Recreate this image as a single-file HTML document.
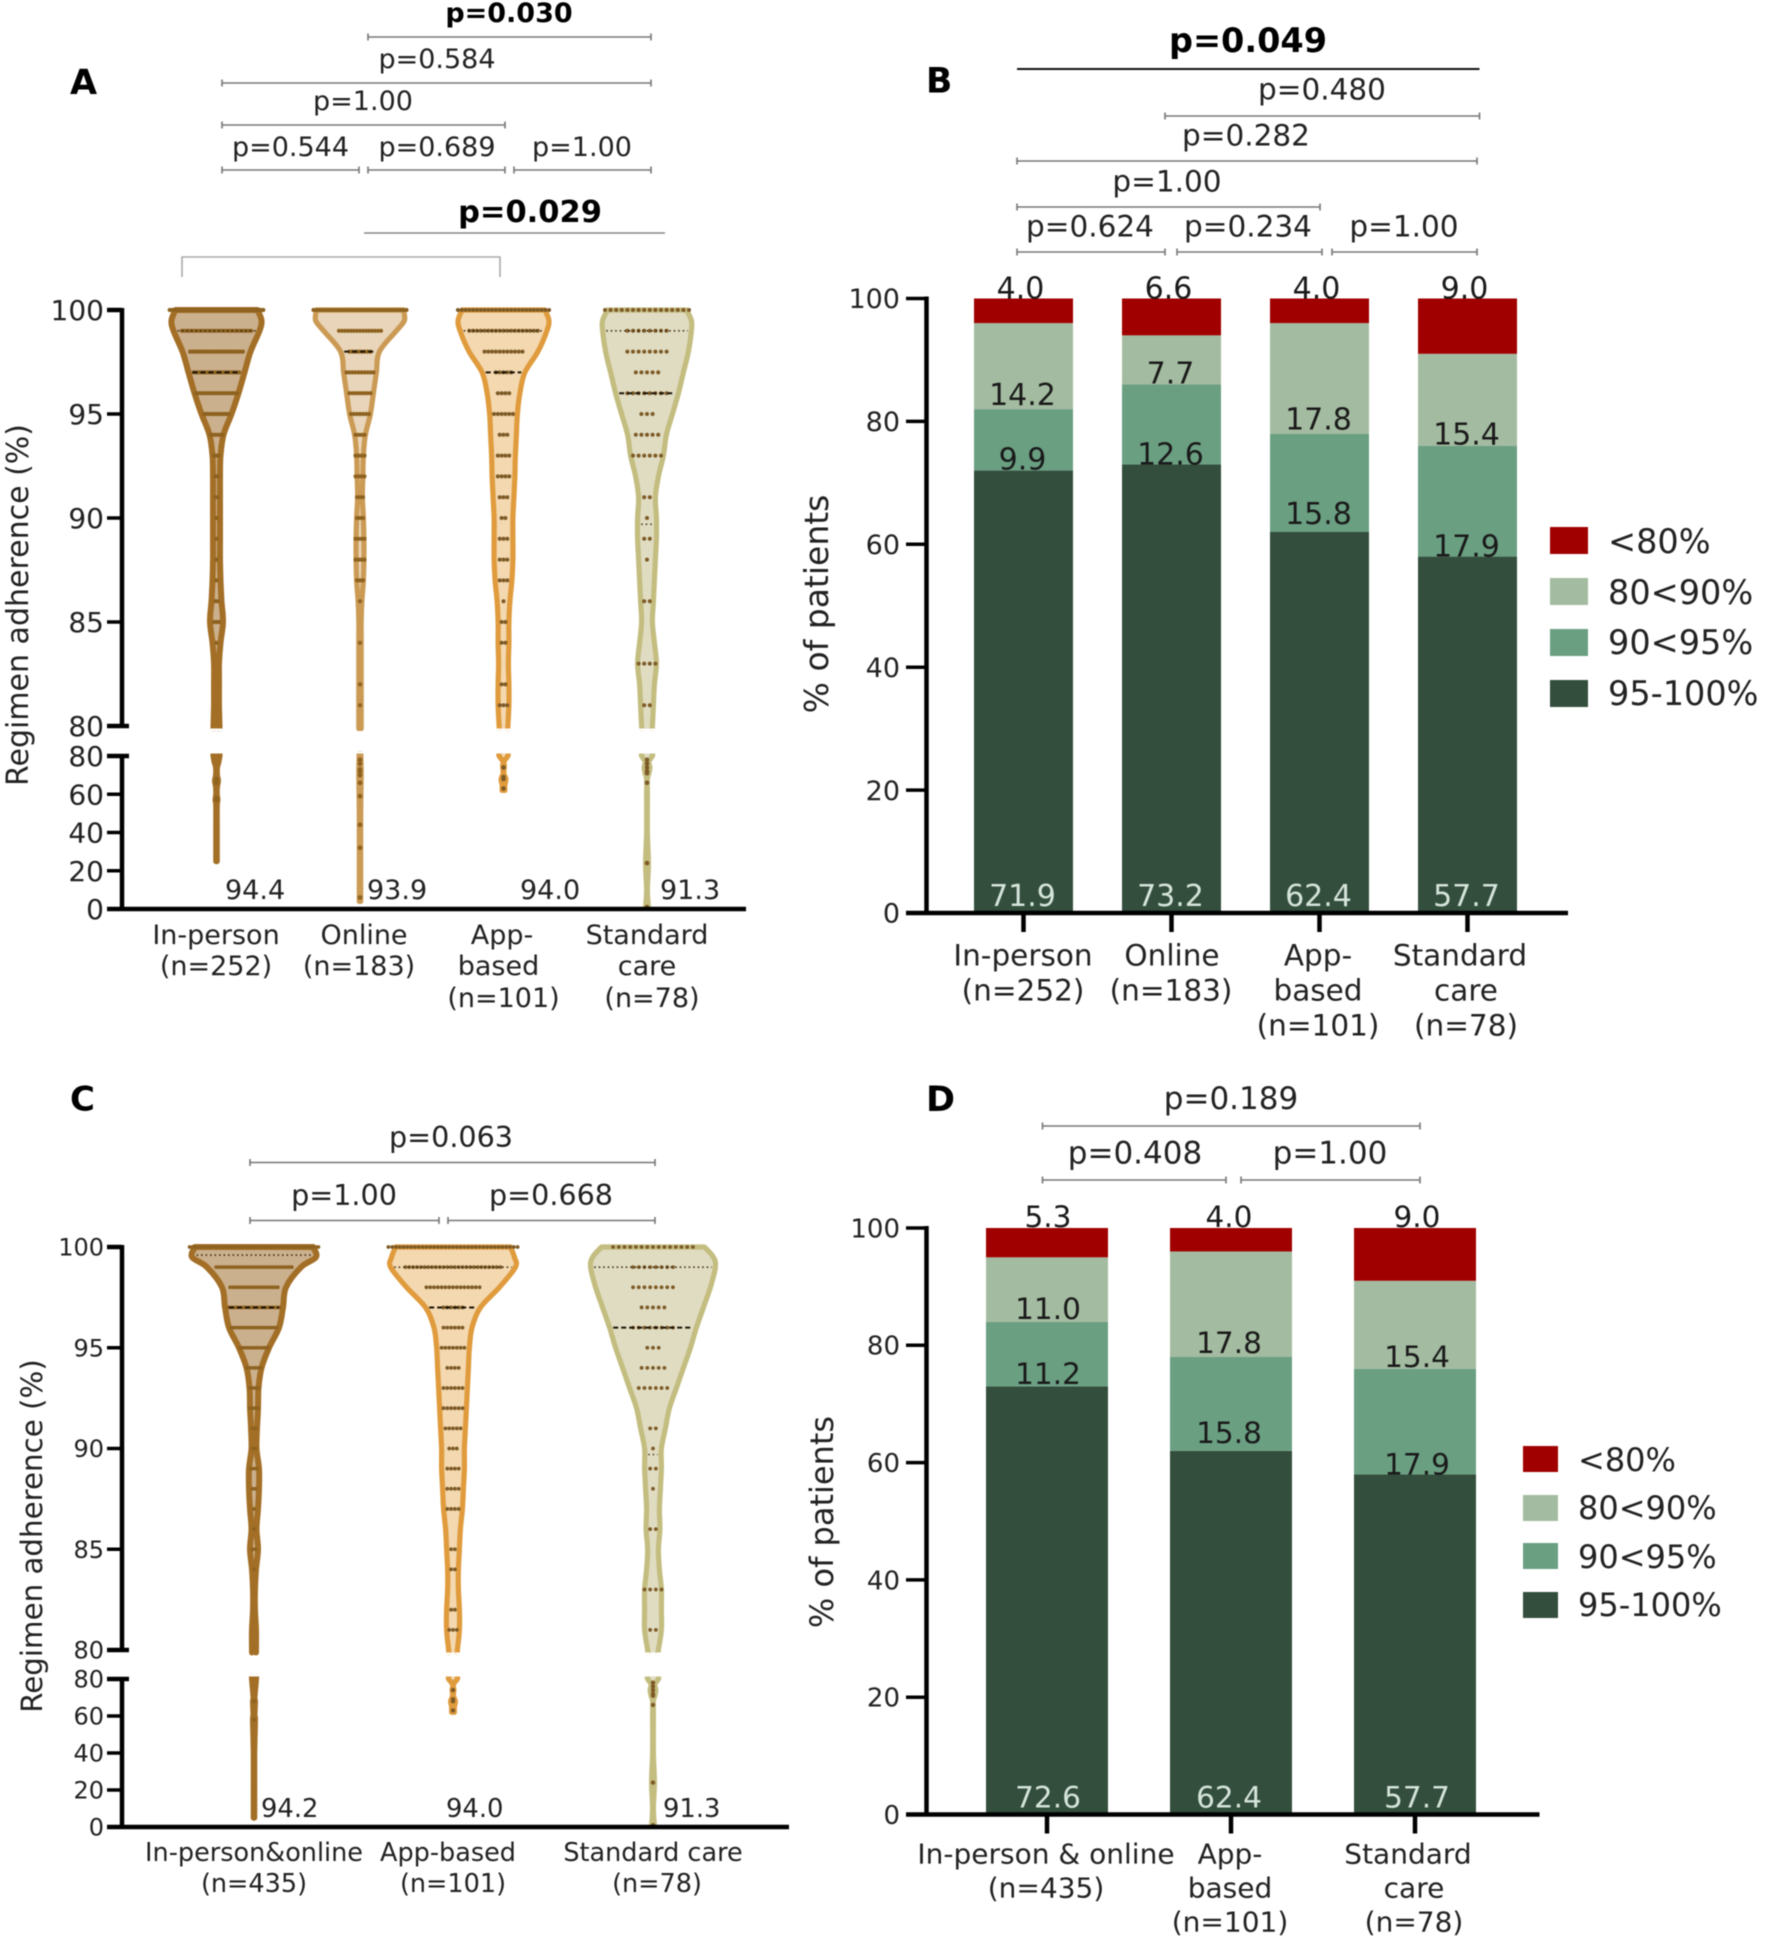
<!DOCTYPE html>
<html lang="en">
<head>
<meta charset="utf-8">
<title>Regimen adherence by group</title>
<style>
html,body{margin:0;padding:0;background:#fff}
svg{display:block;filter:blur(.45px)}
text{font-family:"DejaVu Sans","Liberation Sans",sans-serif;fill:#222}
.m{text-anchor:middle}
.b{font-weight:bold;fill:#000}
.br{fill:none;stroke:#777;stroke-width:1.6}
</style>
</head>
<body>
<svg id="fig" xmlns="http://www.w3.org/2000/svg" width="1770" height="1943" viewBox="0 0 1770 1943">
<rect width="1770" height="1943" fill="#fff"/>

<!-- PANEL A annotations -->
<g>
<text x="70" y="94" font-size="35" class="b">A</text>
<text x="509" y="22" font-size="27" class="m b">p=0.030</text>
<path class="br" d="M368 33.5V40.5M368 37H651M651 33.5V40.5"/>
<text x="437" y="68" font-size="27" class="m">p=0.584</text>
<path class="br" d="M222 79.5V86.5M222 83H651M651 79.5V86.5"/>
<text x="363" y="110" font-size="27" class="m">p=1.00</text>
<path class="br" d="M222 121.5V128.5M222 125H505M505 121.5V128.5"/>
<text x="290.500" y="156" font-size="27" class="m">p=0.544</text>
<path class="br" d="M222 166.500V173.500M222 170H359M359 166.500V173.500"/>
<text x="437" y="156" font-size="27" class="m">p=0.689</text>
<path class="br" d="M368 166.500V173.500M368 170H505M505 166.500V173.500"/>
<text x="582" y="156" font-size="27" class="m">p=1.00</text>
<path class="br" d="M514 166.500V173.500M514 170H651M651 166.500V173.500"/>
<text x="530" y="222" font-size="30.500" class="m b">p=0.029</text>
<path d="M364 233H665" fill="none" stroke="#888" stroke-width="1.6"/>
<path d="M182 277V257H500V277" fill="none" stroke="#aaa" stroke-width="1.6"/>
<text transform="translate(28,605) rotate(-90)" font-size="30" class="m">Regimen adherence (%)</text>
<text x="225" y="899" font-size="27">94.4</text>
<text x="367" y="899" font-size="27">93.9</text>
<text x="520" y="899" font-size="27">94.0</text>
<text x="660" y="899" font-size="27">91.3</text>
<g font-size="27" class="m">
<text x="216" y="944" class="m">In-person</text>
<text x="216" y="975" class="m">(n=252)</text>
<text x="364" y="944" class="m">Online</text>
<text x="359" y="975" class="m">(n=183)</text>
<text x="502" y="944" class="m">App-</text>
<text x="498.500" y="975" class="m">based</text>
<text x="503.500" y="1007" class="m">(n=101)</text>
<text x="647" y="944" class="m">Standard</text>
<text x="647" y="975" class="m">care</text>
<text x="652" y="1007" class="m">(n=78)</text>
</g>
</g>

<!-- PANEL B annotations -->
<g>
<text x="926" y="92.500" font-size="34.500" class="b">B</text>
<text x="1248" y="52" font-size="33.500" class="m b">p=0.049</text>
<path d="M1017 69H1479.500" fill="none" stroke="#111" stroke-width="2"/>
<text x="1322" y="99.500" font-size="29.500" class="m">p=0.480</text>
<path class="br" d="M1165 112.500V119.500M1165 116H1479.500M1479.500 112.500V119.500"/>
<text x="1246" y="145.500" font-size="29.500" class="m">p=0.282</text>
<path class="br" d="M1017 157.500V164.500M1017 161H1477M1477 157.500V164.500"/>
<text x="1167" y="191.500" font-size="29.500" class="m">p=1.00</text>
<path class="br" d="M1017 203.500V210.500M1017 207H1320M1320 203.500V210.500"/>
<text x="1090" y="236.500" font-size="29.500" class="m">p=0.624</text>
<path class="br" d="M1017 248.500V255.500M1017 252H1165M1165 248.500V255.500"/>
<text x="1248" y="236.500" font-size="29.500" class="m">p=0.234</text>
<path class="br" d="M1177 248.500V255.500M1177 252H1322M1322 248.500V255.500"/>
<text x="1404" y="236.500" font-size="29.500" class="m">p=1.00</text>
<path class="br" d="M1332 248.500V255.500M1332 252H1477M1477 248.500V255.500"/>
<text transform="translate(828,604) rotate(-90)" font-size="33" class="m">% of patients</text>
<text x="1023" y="965.500" font-size="29.500" class="m">In-person</text>
<text x="1023" y="1000.500" font-size="29.500" class="m">(n=252)</text>
<text x="1172" y="965.500" font-size="29.500" class="m">Online</text>
<text x="1171" y="1000.500" font-size="29.500" class="m">(n=183)</text>
<text x="1318" y="965.500" font-size="29.500" class="m">App-</text>
<text x="1318" y="1000.500" font-size="29.500" class="m">based</text>
<text x="1318" y="1035.500" font-size="29.500" class="m">(n=101)</text>
<text x="1460" y="965.500" font-size="29.500" class="m">Standard</text>
<text x="1466" y="1000.500" font-size="29.500" class="m">care</text>
<text x="1466" y="1035.500" font-size="29.500" class="m">(n=78)</text>
<g>
<rect x="1550" y="527" width="38" height="27" fill="#a00000"/>
<text x="1608" y="553" font-size="33.500">&lt;80%</text>
<rect x="1550" y="578" width="38" height="27" fill="#a3bba0"/>
<text x="1608" y="604" font-size="33.500">80&lt;90%</text>
<rect x="1550" y="629" width="38" height="27" fill="#6a9f82"/>
<text x="1608" y="654" font-size="33.500">90&lt;95%</text>
<rect x="1550" y="680" width="38" height="27" fill="#334e3d"/>
<text x="1608" y="705" font-size="33.500">95-100%</text>
</g>
</g>

<!-- PANEL C annotations -->
<g>
<text x="70" y="1110.500" font-size="34" class="b">C</text>
<text x="451" y="1147" font-size="28.600" class="m">p=0.063</text>
<path class="br" d="M250 1159V1166M250 1162.500H655M655 1159V1166"/>
<text x="344" y="1205" font-size="28.600" class="m">p=1.00</text>
<path class="br" d="M250 1217V1224M250 1220.500H439M439 1217V1224"/>
<text x="551" y="1205" font-size="28.600" class="m">p=0.668</text>
<path class="br" d="M448 1217V1224M448 1220.500H655M655 1217V1224"/>
<text transform="translate(42,1536) rotate(-90)" font-size="29.300" class="m">Regimen adherence (%)</text>
<text x="261" y="1817" font-size="25.800">94.2</text>
<text x="446" y="1817" font-size="25.800">94.0</text>
<text x="663" y="1817" font-size="25.800">91.3</text>
<text x="254" y="1861" font-size="25.500" class="m">In-person&amp;online</text>
<text x="254" y="1892" font-size="25.500" class="m">(n=435)</text>
<text x="448" y="1861" font-size="25.500" class="m">App-based</text>
<text x="453" y="1892" font-size="25.500" class="m">(n=101)</text>
<text x="653" y="1861" font-size="25.500" class="m">Standard care</text>
<text x="657" y="1892" font-size="25.500" class="m">(n=78)</text>
</g>

<!-- PANEL D annotations -->
<g>
<text x="926" y="1111" font-size="35" class="b">D</text>
<text x="1231" y="1109" font-size="31" class="m">p=0.189</text>
<path class="br" d="M1042.500 1122.500V1129.500M1042.500 1126H1420M1420 1122.500V1129.500"/>
<text x="1135" y="1163.500" font-size="31" class="m">p=0.408</text>
<path class="br" d="M1042.500 1176.500V1183.500M1042.500 1180H1226M1226 1176.500V1183.500"/>
<text x="1330" y="1163.500" font-size="31" class="m">p=1.00</text>
<path class="br" d="M1241 1176.500V1183.500M1241 1180H1420M1420 1176.500V1183.500"/>
<text transform="translate(833,1522) rotate(-90)" font-size="32" class="m">% of patients</text>
<text x="1046" y="1863.500" font-size="28" class="m">In-person &amp; online</text>
<text x="1046" y="1897.500" font-size="28" class="m">(n=435)</text>
<text x="1230" y="1863.500" font-size="28" class="m">App-</text>
<text x="1230" y="1897.500" font-size="28" class="m">based</text>
<text x="1230" y="1931.500" font-size="28" class="m">(n=101)</text>
<text x="1408" y="1863.500" font-size="28" class="m">Standard</text>
<text x="1414" y="1897.500" font-size="28" class="m">care</text>
<text x="1414" y="1931.500" font-size="28" class="m">(n=78)</text>
<g>
<rect x="1523" y="1446" width="35" height="26" fill="#a00000"/>
<text x="1578" y="1471" font-size="32">&lt;80%</text>
<rect x="1523" y="1495" width="35" height="26" fill="#a3bba0"/>
<text x="1578" y="1519" font-size="32">80&lt;90%</text>
<rect x="1523" y="1543" width="35" height="26" fill="#6a9f82"/>
<text x="1578" y="1568" font-size="32">90&lt;95%</text>
<rect x="1523" y="1592" width="35" height="26" fill="#334e3d"/>
<text x="1578" y="1616" font-size="32">95-100%</text>
</g>
</g>
</svg>

<script>
// ---------- shared category levels ----------
const violinLevels = [100,99.5,99,98,97,96,95,94,93,92,91,90,89,88,87,86,85,84,83,82,81,80];
const dotLevels = [100,99,98,97,96,95,94,93,92,91,90,89,88,87,86,85,84,83,82,81,80];
const upperTicks = [100,95,90,85,80];
const lowerTicks = [80,60,40,20,0];
const barTicks = [0,20,40,60,80,100];

// ---------- panel A: violin densities (upper axis segment) ----------
const aDensityInPerson = [44,48,46,37,31,25,18,10,7,6.5,6.5,6.5,6.5,6.5,7,8,9.5,7,5.5,5.5,5.5,6];
const aDensityOnline   = [46,47,39,22,19,16,13,8,6,5.5,5,6,6.5,6.5,6,4.5,3.8,3.8,3.8,3.8,3.8,3.8];
const aDensityApp      = [44,48,46,37,24,19,16.5,15.5,14.5,14,13,12,12,12,11,9,8,8,7.5,8,8,7];
const aDensityStandard = [42,47,47,44,39,34,28,22,19,14,11,12,12,11,10,9,8,10,12,10,9,8];
// patients per adherence level
const aDotsInPerson = [40,30,23,20,18,11,6,3,2,2,1,1,1,1,2,3,1,0,0,0,0];
const aDotsOnline   = [32,15,8,10,8,7,4,4,4,3,3,4,4,3,1,0,1,0,1,1,0];
const aDotsApp      = [25,19,11,5,4,6,3,4,4,3,2,3,3,3,1,2,2,0,2,3,0];
const aDotsStandard = [16,8,8,5,8,3,5,6,0,2,1,2,1,0,2,0,0,4,0,2,0];
// lower axis segment
const aLowLevelsInPerson = [80,77,74,70,67,64,60,57,54,40,25];
const aLowDensityInPerson = [6,5,3.5,3.5,4.5,3.5,3.3,4,3.3,3.3,3.3];
const aLowDotsInPerson = [68,66,58,57];
const aLowLevelsOnline = [80,70,60,44,30,15,4];
const aLowDensityOnline = [3.5,3.8,3.5,3.3,3.3,3.3,3.3];
const aLowDotsOnline = [78,76,73,72,70,66,59,44,32,6];
const aLowLevelsApp = [80,77,75,71,68,65,62];
const aLowDensityApp = [7,3,3.5,3,5,4,4];
const aLowDotsApp = [74,69,68,63];
const aLowLevelsStandard = [80,77,74,71,68,60,40,24,10,1];
const aLowDensityStandard = [8,4.5,5.5,4.5,3,3,3,4,3,4];
const aLowDotsStandard = [78,76,74,72,71,66,24,1];
const aMedians = [97,98,97,96];
const aUpperQuartiles = [99,null,99,99];
const aLowerQuartiles = [null,null,null,89.7];

// ---------- panel C ----------
const cDensityCombined = [62,65,50,35,32,28,18,10.5,7.5,7,6,5.5,8,8,7,5.5,7,5,4,4,5,5];
const cDensityApp      = [60,64,65,49,30,21.6,19,18,17,16,15,14,14,13,12,10,9,8,8,9,9,7];
const cDensityStandard = [54,63,65,60,53,46,40,33,26,19,15,11,11,10,9,9.5,8,9,11,11,11,8];
const cDotsCombined = [47,28,18,19,17,11,6,4,4,2,2,3,2,1,1,2,1,0,0,0,0];
const cDotsApp      = [35,26,15,6,6,7,4,6,6,5,3,4,4,4,0,2,2,0,2,3,0];
const cDotsStandard = [15,8,8,5,8,3,5,6,0,2,1,2,1,0,2,0,0,4,0,2,0];
const cLowLevelsCombined = [80,70,68,60,58,40,20,5];
const cLowDensityCombined = [5,3.5,4,3.5,4,3.3,3.3,3.3];
const cLowDotsCombined = [68,58];
const cLowLevelsApp = [80,77,74,71,68,65,62];
const cLowDensityApp = [7,3,3.5,3,5,4,4];
const cLowDotsApp = [74,69,68,63];
const cLowLevelsStandard = [80,77,74,71,68,60,40,24,10,1];
const cLowDensityStandard = [8,4.5,5.5,4.5,3,3,3,4,3,4];
const cLowDotsStandard = [78,76,74,72,71,66,24,1];
const cMedians = [97,97,96];
const cUpperQuartiles = [99.6,99,99];
const cLowerQuartiles = [null,null,89.7];

// ---------- panel B stacked bars: band heights as drawn, and printed values ----------
const bCategories = ['in-person','online','app-based','standard-care'];
const bBand95to100 = [72,73,62,58];
const bBand90to95  = [10,13,16,18];
const bBand80to90  = [14,8,18,15];
const bBandUnder80 = [4,6,4,9];
const bPrinted95to100 = ['71.9','73.2','62.4','57.7'];
const bPrinted90to95  = ['9.9','12.6','15.8','17.9'];
const bPrinted80to90  = ['14.2','7.7','17.8','15.4'];
const bPrintedUnder80 = ['4.0','6.6','4.0','9.0'];

// ---------- panel D stacked bars ----------
const dCategories = ['in-person-online','app-based','standard-care'];
const dBand95to100 = [73,62,58];
const dBand90to95  = [11,16,18];
const dBand80to90  = [11,18,15];
const dBandUnder80 = [5,4,9];
const dPrinted95to100 = ['72.6','62.4','57.7'];
const dPrinted90to95  = ['11.2','15.8','17.9'];
const dPrinted80to90  = ['11.0','17.8','15.4'];
const dPrintedUnder80 = ['5.3','4.0','9.0'];

const SVG_NS = 'http://www.w3.org/2000/svg';
const fig = document.getElementById('fig');

function make(tag, attrs, parent){
  const n = document.createElementNS(SVG_NS, tag);
  for (const k in attrs) n.setAttribute(k, attrs[k]);
  (parent || fig).appendChild(n);
  return n;
}
function tickLabel(parent, x, y, size, str){
  const t = make('text', {x:x, y:y + size*0.36, 'font-size':size, 'text-anchor':'end'}, parent);
  t.textContent = str;
  
  
}
function tickMark(parent, x1, x2, y, w){
  const l = make('line', {x1:x1, x2:x2, y1:y, y2:y, stroke:'#000', 'stroke-width':w}, parent);
  
  
}
function axisLine(parent, x1, y1, x2, y2, w, name){
  const l = make('line', {x1:x1, y1:y1, x2:x2, y2:y2, stroke:'#000', 'stroke-width':w}, parent);
  
  
}

// Catmull-Rom through points
function smooth(pts){
  let d = '';
  for (let i = 0; i < pts.length - 1; i++){
    const p0 = pts[Math.max(i-1,0)], p1 = pts[i], p2 = pts[i+1], p3 = pts[Math.min(i+2,pts.length-1)];
    const c1x = p1[0] + (p2[0]-p0[0])/6, c1y = p1[1] + (p2[1]-p0[1])/6;
    const c2x = p2[0] - (p3[0]-p1[0])/6, c2y = p2[1] - (p3[1]-p1[1])/6;
    d += 'C' + c1x.toFixed(1) + ' ' + c1y.toFixed(1) + ' ' + c2x.toFixed(1) + ' ' + c2y.toFixed(1) + ' ' + p2[0].toFixed(1) + ' ' + p2[1].toFixed(1);
  }
  return d;
}
function violinPath(levels, density, cx, yScale, sw, openAtTop){
  const hw = density.map(function(d){ return Math.max(d - sw/2, 0.3); });
  const ys = levels.map(yScale);
  const left = ys.map(function(y,i){ return [cx - hw[i], y]; });
  const right = ys.map(function(y,i){ return [cx + hw[i], y]; });
  if (openAtTop){
    left.unshift([left[0][0], ys[0]-2.5]);
    right.unshift([right[0][0], ys[0]-2.5]);
    const rr = right.slice().reverse();
    return 'M' + left[0][0].toFixed(1) + ' ' + left[0][1].toFixed(1) + smooth(left) + 'L' + rr[0][0].toFixed(1) + ' ' + rr[0][1].toFixed(1) + smooth(rr);
  }
  const n = ys.length - 1;
  left.push([left[n][0], ys[n]+2.5]);
  right.push([right[n][0], ys[n]+2.5]);
  const lr = left.slice().reverse();
  return 'M' + lr[0][0].toFixed(1) + ' ' + lr[0][1].toFixed(1) + smooth(lr) + 'L' + right[0][0].toFixed(1) + ' ' + right[0][1].toFixed(1) + smooth(right);
}
function densityAt(levels, density, v){
  for (let i = 0; i < levels.length - 1; i++){
    if (v <= levels[i] && v >= levels[i+1]){
      const f = (levels[i]-v)/(levels[i]-levels[i+1]);
      return density[i] + f*(density[i+1]-density[i]);
    }
  }
  return density[density.length-1];
}
function statLine(parent, cx, y, half, dash, col, w, name){
  const l = make('line', {x1:cx-half, x2:cx+half, y1:y, y2:y, stroke:col, 'stroke-width':w, 'stroke-dasharray':dash}, parent);
  
  
}

function drawViolin(g, v, yU, yL){
  const sw = v.sw;
  const up = make('path', {d:violinPath(violinLevels, v.density, v.cx, yU, sw, false), fill:v.fill, stroke:v.stroke, 'stroke-width':sw, 'stroke-linejoin':'round'}, g);
  
  
  const low = make('path', {d:violinPath(v.lowLevels, v.lowDensity, v.cx, yL, sw, true), fill:v.fill, stroke:v.stroke, 'stroke-width':sw, 'stroke-linejoin':'round', 'stroke-linecap':'butt'}, g);
  
  
  // dots per level
  dotLevels.forEach(function(level, i){
    const n = v.dots[i];
    for (let j = 0; j < n; j++){
      const c = make('circle', {cx:v.cx + (j-(n-1)/2)*v.spacing, cy:yU(level), r:v.r, fill:v.dotColor}, g);
      
      
    }
  });
  v.lowDots.forEach(function(val){
    const c = make('circle', {cx:v.cx, cy:yL(val), r:v.r + 0.3, fill:v.dotColor}, g);
    
    
  });
  // median and quartile lines
  statLine(g, v.cx, yU(v.median), Math.max(densityAt(violinLevels, v.density, v.median) - sw - 1, 3), '5 3', '#1c1408', 2, 'median-line-' + v.name);
  if (v.q3 !== null) statLine(g, v.cx, yU(v.q3), Math.max(densityAt(violinLevels, v.density, v.q3) - sw - 1, 3), '1.5 3', '#3a2a10', 1.6, 'upper-quartile-line-' + v.name);
  if (v.q1 !== null) statLine(g, v.cx, yU(v.q1), Math.max(densityAt(violinLevels, v.density, v.q1) - sw - 1, 3), '1.5 3', '#3a2a10', 1.4, 'lower-quartile-line-' + v.name);
}

function drawViolinPanel(cfg, violins){
  const g = make('g', {});
  
  
  const yU = function(v){ return cfg.uTop + (100 - v)*(cfg.uBot - cfg.uTop)/20; };
  const yL = function(v){ return cfg.lBot - v*(cfg.lBot - cfg.lTop)/80; };
  axisLine(g, cfg.axisX, yU(100)-2, cfg.axisX, yU(80)+2, 4.5, 'y-axis-upper');
  axisLine(g, cfg.axisX, yL(80)-2, cfg.axisX, yL(0), 4.5, 'y-axis-lower');
  upperTicks.forEach(function(v){
    tickMark(g, cfg.tickX, v === 80 ? cfg.axisX + 7 : cfg.axisX, yU(v), v === 80 || v === 100 ? 4.5 : 3.5);
    tickLabel(g, cfg.labelX, yU(v), cfg.tickSize, String(v));
  });
  lowerTicks.forEach(function(v){
    tickMark(g, cfg.tickX, v === 80 ? cfg.axisX + 7 : cfg.axisX, yL(v), v === 80 ? 4.5 : 3.5);
    tickLabel(g, cfg.labelX, yL(v), cfg.tickSize, String(v));
  });
  violins.forEach(function(v){ drawViolin(g, v, yU, yL); });
  axisLine(g, cfg.tickX, yL(0), cfg.axisEnd, yL(0), 4.5, 'x-axis');
}

function drawStackedPanel(cfg){
  const g = make('g', {});
  
  
  const y = function(v){ return cfg.y0 - v*(cfg.y0 - cfg.y100)/100; };
  const x = function(i){ return cfg.x0 + i*cfg.pitch; };
  const colors = ['#334e3d','#6a9f82','#a3bba0','#a00000'];
  const bandNames = ['95-100','90-95','80-90','under-80'];
  cfg.categories.forEach(function(cat, i){
    let base = 0;
    cfg.bands.forEach(function(band, b){
      const top = base + band[i];
      const r = make('rect', {x:x(i)-cfg.barW/2, y:y(top), width:cfg.barW, height:y(base)-y(top), fill:colors[b]}, g);
      
      
      base = top;
    });
  });
  cfg.categories.forEach(function(cat, i){
    let base = 0;
    cfg.bands.forEach(function(band, b){
      let ty;
      let tx = x(i) + cfg.labelShift[i];
      if (b === 0) ty = y(0) - 7;
      else if (b === 3) { ty = y(base + band[i]) + cfg.topLift; tx += cfg.topShift; }
      else ty = y(base) - cfg.nudge[i][b-1];
      const t = make('text', {x:tx, y:ty, 'font-size':cfg.valSize, 'text-anchor':'middle'}, g);
      t.style.fill = b === 0 ? '#d5e4da' : '#1a1a1a';
      t.textContent = cfg.printed[b][i];
      
      
      base += band[i];
    });
    const tk = make('line', {x1:x(i), x2:x(i), y1:y(0), y2:y(0)+19, stroke:'#000', 'stroke-width':4.5}, g);
    
    
  });
  axisLine(g, cfg.axisX, y(100)-2, cfg.axisX, y(0), 4.5, 'y-axis');
  axisLine(g, cfg.tickX, y(0), cfg.axisEnd, y(0), 4.5, 'x-axis');
  barTicks.forEach(function(v){
    tickMark(g, cfg.tickX, cfg.axisX, y(v), 3.5);
    tickLabel(g, cfg.labelX, y(v), cfg.tickSize, String(v));
  });
}

const cInPerson = {stroke:'#a36f26', fill:'#cbb08e', dotColor:'#8e621f'};
const cOnline   = {stroke:'#cb9b55', fill:'#e9d5b9', dotColor:'#8e621f'};
const cApp      = {stroke:'#e09b3d', fill:'#f3d8b0', dotColor:'#7d5a26'};
const cStandard = {stroke:'#c4bd80', fill:'#e0dcc2', dotColor:'#7d5a26'};

function violinSpec(name, cx, col, density, dots, spacing, r, sw, lowLevels, lowDensity, lowDots, median, q3, q1){
  return {name:name, cx:cx, stroke:col.stroke, fill:col.fill, dotColor:col.dotColor, density:density, dots:dots, spacing:spacing, r:r,
    lowLevels:lowLevels, lowDensity:lowDensity, lowDots:lowDots, median:median, q3:q3, q1:q1, sw:sw};
}

drawViolinPanel({name:'panel-a-chart', uTop:310, uBot:726, lTop:756, lBot:909, axisX:122, tickX:107, labelX:104, tickSize:28, axisEnd:746}, [
  violinSpec('a-in-person', 216.5, cInPerson, aDensityInPerson, aDotsInPerson, 2.4, 2.1, 6, aLowLevelsInPerson, aLowDensityInPerson, aLowDotsInPerson, aMedians[0], aUpperQuartiles[0], aLowerQuartiles[0]),
  violinSpec('a-online', 360, cOnline, aDensityOnline, aDotsOnline, 3, 2.1, 5.2, aLowLevelsOnline, aLowDensityOnline, aLowDotsOnline, aMedians[1], aUpperQuartiles[1], aLowerQuartiles[1]),
  violinSpec('a-app', 503.5, cApp, aDensityApp, aDotsApp, 3.8, 2, 5.2, aLowLevelsApp, aLowDensityApp, aLowDotsApp, aMedians[2], aUpperQuartiles[2], aLowerQuartiles[2]),
  violinSpec('a-standard', 647, cStandard, aDensityStandard, aDotsStandard, 5.6, 2, 5.2, aLowLevelsStandard, aLowDensityStandard, aLowDotsStandard, aMedians[3], aUpperQuartiles[3], aLowerQuartiles[3])
]);

drawViolinPanel({name:'panel-c-chart', uTop:1247, uBot:1650, lTop:1679, lBot:1827, axisX:122, tickX:107, labelX:104, tickSize:24, axisEnd:789}, [
  violinSpec('c-combined', 254, cInPerson, cDensityCombined, cDotsCombined, 2.8, 1.9, 6, cLowLevelsCombined, cLowDensityCombined, cLowDotsCombined, cMedians[0], cUpperQuartiles[0], cLowerQuartiles[0]),
  violinSpec('c-app', 453, cApp, cDensityApp, cDotsApp, 3.8, 1.9, 5.2, cLowLevelsApp, cLowDensityApp, cLowDotsApp, cMedians[1], cUpperQuartiles[1], cLowerQuartiles[1]),
  violinSpec('c-standard', 653, cStandard, cDensityStandard, cDotsStandard, 5.7, 1.9, 5.2, cLowLevelsStandard, cLowDensityStandard, cLowDotsStandard, cMedians[2], cUpperQuartiles[2], cLowerQuartiles[2])
]);

drawStackedPanel({name:'panel-b-chart', categories:bCategories, bands:[bBand95to100,bBand90to95,bBand80to90,bBandUnder80],
  printed:[bPrinted95to100,bPrinted90to95,bPrinted80to90,bPrintedUnder80],
  nudge:[[1.3,4],[0,1],[8,4.4],[0,1.5]], labelShift:[-1,-1,-1,-1], topShift:-2, topLift:0,
  y0:913, y100:298.5, x0:1023.5, pitch:148, barW:99, axisX:926.5, tickX:906, labelX:900, tickSize:27, valSize:30, axisEnd:1568});

drawStackedPanel({name:'panel-d-chart', categories:dCategories, bands:[dBand95to100,dBand90to95,dBand80to90,dBandUnder80],
  printed:[dPrinted95to100,dPrinted90to95,dPrinted80to90,dPrintedUnder80],
  nudge:[[2.6,2.8],[8,4.2],[0,1.9]], labelShift:[1,-2,2], topShift:0, topLift:-1,
  y0:1814.5, y100:1228, x0:1047, pitch:184, barW:122, axisX:926.5, tickX:906, labelX:900, tickSize:26, valSize:29.5, axisEnd:1539.5});
</script>
</body>
</html>
